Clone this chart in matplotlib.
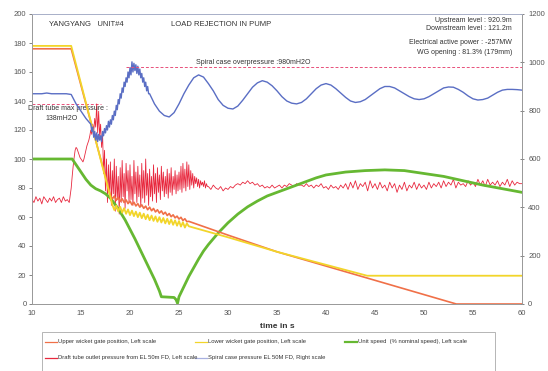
import numpy as np
import matplotlib.pyplot as plt
from matplotlib.lines import Line2D
from matplotlib.patches import Rectangle

plt.rcParams['font.family'] = ['Liberation Sans', 'DejaVu Sans']

# ---- measured data (time in s) ----
# upper wicket gate position [%], left scale
upper_t = [10, 14, 17.8] + [18.0 + 0.2 * i for i in range(41)] + [30, 35, 53.3, 60]
upper_v = [176, 176, 80,
           75, 72.5, 74.5, 71.5, 73.5, 70.8, 72.6, 70, 71.8, 69.2,
           71, 68.4, 70.2, 67.6, 69.2, 66.8, 68.4, 66, 67.5, 65,
           66.8, 64.3, 65.9, 63.5, 65, 62.7, 64.2, 61.9, 63.3, 61,
           62.4, 60.2, 61.5, 59.4, 60.6, 58.6, 59.8, 57.6, 58.8, 56.8,
           57,
           47.5, 36, 0, 0]

# lower wicket gate position [%], left scale
lower_t = [10, 14] + [18.2 + 0.2 * i for i in range(40)] + [30, 35, 44.2, 60]
lower_v = [178, 178,
           68.5, 64.8, 67.8, 63.9, 67, 63, 66.1, 62.2, 65.2, 61.3,
           64.4, 60.6, 63.7, 59.9, 63, 59.2, 62.3, 58.5, 61.6, 57.8,
           61, 57.3, 60.4, 56.7, 59.9, 56.2, 59.3, 55.6, 58.8, 55.1,
           58.3, 54.6, 57.7, 54, 57.2, 53.4, 56.4, 52.7, 55.6, 53.6,
           46, 36, 19.5, 19.5]

# unit speed [% nominal], left scale
speed_t = [10, 14.1, 14.5, 15, 15.5, 16, 16.5, 17, 17.5, 18, 18.5, 19, 19.5,
           20, 20.5, 21, 21.5, 22, 22.5, 23, 23.2, 24.5, 24.7, 24.85, 25,
           25.5, 26, 26.5, 27, 27.5, 28, 29, 30, 31, 32, 33, 34, 35, 36, 37,
           38, 39, 40, 42, 44, 46, 48, 50, 52, 54, 56, 58, 60]
speed_v = [100, 100, 96, 91, 86, 82, 79.5, 78, 76, 73, 68.5, 63.5, 58,
           51.5, 45, 38, 31, 24, 17, 9, 5, 4.5, 3, 0.5, 5,
           12, 19, 25, 31, 36.5, 41, 49, 56, 62, 67, 71, 74.5, 77, 79.5, 82,
           84.5, 87, 89, 91, 92, 92.5, 92, 90, 88, 85, 82, 79.5, 77]

# draft tube outlet pressure [mH2O], left scale
draft_a = [72, 70, 74, 71, 73, 69, 74, 72, 70, 73,
           71, 74, 70, 72, 73, 70, 74, 71, 72, 70]          # 10.0 .. 13.8, 0.2 s
draft_b = [80, 88, 95, 101, 106, 108, 107, 105, 103, 101,   # 14.0 .. 27.9, 0.1 s
           100, 99, 98, 100, 103, 106, 109, 111, 113, 116,
           120, 117, 124, 119, 128, 122, 138, 118, 133, 116,
           124, 108, 118, 90, 106, 78, 100, 70, 96, 74,
           98, 68, 92, 76, 100, 64, 95, 72, 88, 62,
           94, 70, 99, 74, 90, 66, 97, 78, 92, 70,
           96, 72, 88, 68, 99, 76, 91, 70, 95, 74,
           89, 67, 97, 73, 92, 70, 100, 75, 90, 68,
           93, 74, 88, 71, 96, 76, 90, 70, 94, 77,
           89, 72, 95, 78, 91, 74, 88, 76, 93, 73,
           90, 77, 94, 75, 88, 79, 92, 76, 89, 78,
           91, 79, 95, 77, 97, 80, 93, 78, 98, 81,
           96, 79, 92, 82, 90, 80, 88, 83, 87, 81,
           86, 80, 85, 82, 84, 81, 85, 80, 83, 81]
draft_c = [81, 79, 82, 80, 79, 81, 78, 80,                  # 28.0 .. 60.0, 0.25 s
           79, 81, 80, 82, 83, 82, 84, 83,
           85, 83, 84, 82, 83, 81, 82, 80,
           81, 80, 82, 80, 81, 82, 80, 82,
           81, 83, 82, 81, 83, 82, 82, 81,
           83, 81, 82, 80, 82, 81, 83, 80,
           81, 79, 82, 80, 81, 79, 82, 80,
           83, 79, 84, 80, 85, 79, 83, 81,
           84, 78, 85, 80, 83, 79, 84, 80,
           82, 78, 84, 80, 83, 77, 82, 79,
           84, 78, 82, 80, 84, 79, 83, 80,
           82, 79, 84, 80, 83, 81, 84, 80,
           85, 81, 84, 82, 86, 80, 84, 82,
           83, 81, 85, 82, 84, 81, 86, 82,
           85, 81, 86, 82, 84, 82, 85, 81,
           84, 82, 86, 81, 85, 82, 84, 83,
           83]

# spiral case pressure [mH2O], right scale
spiral_a = [870, 870, 870, 873, 870, 870, 870, 870, 867, 828, 798, 768]   # 10.0 .. 15.5, 0.5 s
spiral_b = [744, 714, 732, 690, 714, 678, 708, 672, 702, 678,            # 16.0 .. 21.9, 0.1 s
            696, 672, 714, 696, 726, 708, 738, 720, 756, 732,
            762, 744, 780, 762, 798, 780, 822, 804, 846, 828,
            870, 852, 894, 876, 918, 900, 936, 918, 960, 936,
            978, 948, 1002, 960, 996, 966, 990, 954, 984, 948,
            972, 936, 954, 918, 936, 900, 918, 882, 900, 870]
spiral_c = [870, 828, 798, 780, 774, 792, 828, 870, 906, 936,            # 22.0 .. 60.0, 0.5 s
            948, 939, 912, 882, 846, 822, 810, 807, 819, 843,
            870, 897, 915, 924, 918, 903, 882, 858, 840, 831,
            828, 834, 849, 870, 891, 906, 912, 906, 891, 873,
            855, 840, 834, 837, 846, 861, 876, 891, 900, 900,
            894, 882, 870, 858, 849, 846, 849, 858, 870, 882,
            894, 898, 897, 888, 876, 861, 849, 844, 846, 852,
            864, 876, 885, 888, 888, 887, 885]

draft_max = 138      # mH2O, left scale
spiral_max = 980     # mH2O, right scale

draft_t = np.concatenate([10 + 0.2 * np.arange(len(draft_a)),
                          14 + 0.1 * np.arange(len(draft_b)),
                          28 + 0.25 * np.arange(len(draft_c))])
draft_v = np.concatenate([draft_a, draft_b, draft_c])
spiral_t = np.concatenate([10 + 0.5 * np.arange(len(spiral_a)),
                           16 + 0.1 * np.arange(len(spiral_b)),
                           22 + 0.5 * np.arange(len(spiral_c))])
spiral_v = np.concatenate([spiral_a, spiral_b, spiral_c])

c_upper = '#f07048'
c_lower = '#f2d52a'
c_speed = '#66b832'
c_draft = '#e8283e'
c_spiral = '#5a6ec4'
c_limit = '#e8507a'
c_grey = '#555555'

fig = plt.figure(figsize=(5.48, 3.71), dpi=100)
ax = fig.add_axes([32 / 548, 1 - 304 / 371, 490 / 548, 290 / 371])
ax2 = ax.twinx()

ax.plot(draft_t, draft_v, color=c_draft, lw=0.6, zorder=3)
ax.plot(speed_t, speed_v, color=c_speed, lw=2.0, zorder=4)
ax.plot(upper_t, upper_v, color=c_upper, lw=1.2, zorder=5)
ax.plot(lower_t, lower_v, color=c_lower, lw=1.3, zorder=5)
ax2.plot(spiral_t, spiral_v, color=c_spiral, lw=1.0)

# limit lines
ax.plot([10, 17], [draft_max, draft_max], color=c_limit, lw=0.7, ls=(0, (3, 2)))
ax2.plot([19.6, 60], [spiral_max, spiral_max], color=c_limit, lw=0.7, ls=(0, (3, 2)))

ax.set_xlim(10, 60)
ax.set_ylim(0, 200)
ax2.set_ylim(0, 1200)
ax.set_xticks(range(10, 61, 5))
ax.set_yticks(range(0, 201, 20))
ax2.set_yticks(range(0, 1201, 200))

for a in (ax, ax2):
    a.tick_params(labelsize=5.5, colors=c_grey, length=2, width=0.5, pad=2)
    for s in a.spines.values():
        s.set_color('#999999')
        s.set_linewidth(0.6)
    a.spines['top'].set_color('#a8b0c8')
ax.tick_params(axis='x', length=0, pad=4)
ax2.tick_params(axis='y', direction='inout', length=3, pad=3)

ax.set_xlabel('time in s', fontsize=6, fontweight='bold', color='#333333', labelpad=5)

tk = dict(transform=ax.transAxes, fontsize=5.5, color='#333333')
ax.text(17 / 490, 1 - 10 / 290, 'YANGYANG   UNIT#4', va='center', **tk)
ax.text(139 / 490, 1 - 10 / 290, 'LOAD REJECTION IN PUMP', va='center', **tk)
info = ['Upstream level : 920.9m', 'Downstream level : 121.2m',
        'Electrical active power : -257MW', 'WG opening : 81.3% (179mm)']
for txt, py in zip(info, [20, 29, 42, 53]):
    ax.text(480 / 490, (304 - py) / 290, txt, ha='right', va='center', fontsize=5, color='#333333',
            transform=ax.transAxes)
ax.text(164 / 490, (304 - 62) / 290, 'Spiral case overpressure :980mH2O', va='center',
        fontsize=5, color='#333333', transform=ax.transAxes)
ax.text(-4 / 490, (304 - 108) / 290, 'Draft tube max pressure :', va='center',
        fontsize=5, color='#333333', transform=ax.transAxes)
ax.text(30 / 490, (304 - 118) / 290, '138mH2O', ha='center', va='center',
        fontsize=5, color='#333333', transform=ax.transAxes)

# legend box under the plot
W, H = 548, 371
fig.add_artist(Rectangle((42 / W, 0 - 0.01), (495 - 42) / W, (371 - 332) / H + 0.01,
                         transform=fig.transFigure, fill=False, ec='#aaaaaa', lw=0.6))
entries = [
    (45, 342, c_upper, 0.9, 'Upper wicket gate position, Left scale'),
    (195, 342, c_lower, 0.9, 'Lower wicket gate position, Left scale'),
    (345, 342, c_speed, 1.6, 'Unit speed  (% nominal speed), Left scale'),
    (45, 358, c_draft, 0.9, 'Draft tube outlet pressure from EL 50m FD, Left scale'),
    (195, 358, '#a8b0e0', 0.9, 'Spiral case pressure EL 50M FD, Right scale'),
]
for px, py, col, lw, label in entries:
    fig.add_artist(Line2D([px / W, (px + 12) / W], [1 - py / H, 1 - py / H],
                          transform=fig.transFigure, color=col, lw=lw))
    fig.text((px + 13) / W, 1 - py / H, label, va='center', fontsize=4.2, color='#333333')

fig.savefig('out.png', dpi=100)
